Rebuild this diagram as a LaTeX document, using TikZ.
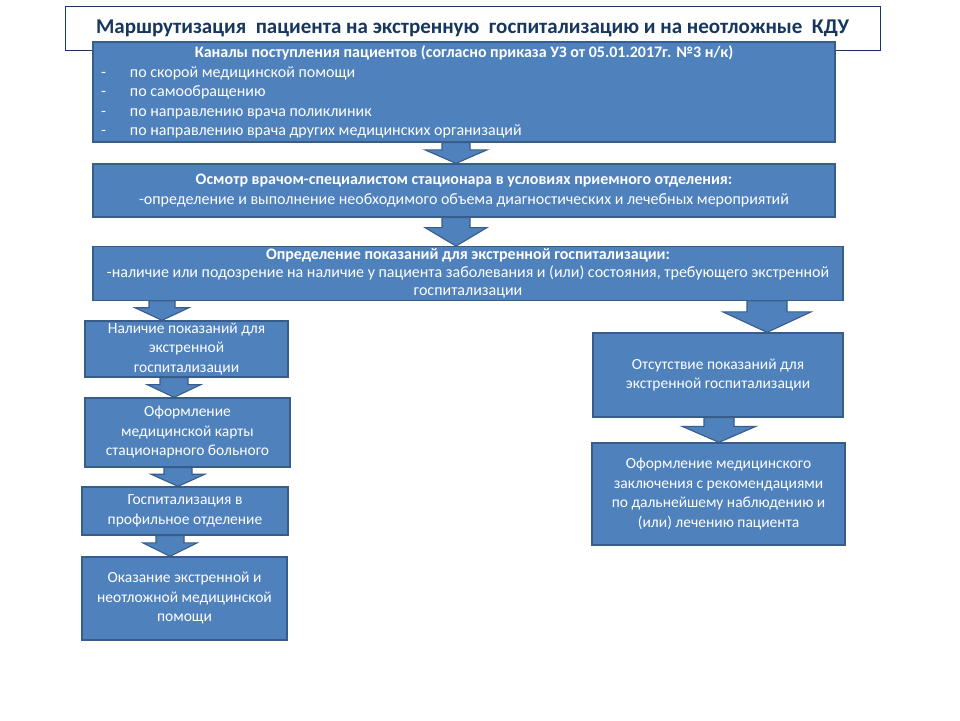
\documentclass[tikz,border=0pt]{standalone}
\usepackage{fontspec}
\setmainfont{Carlito}
\usepackage{tikz}
\usetikzlibrary{calc,positioning}
\definecolor{boxfill}{RGB}{79,129,189}
\definecolor{boxedge}{RGB}{56,93,138}
\definecolor{titleblue}{RGB}{23,55,94}

\tikzset{
  flowbox/.style={draw=boxedge, fill=boxfill, line width=1.3pt, text=white,
    align=center, inner sep=2pt, font=\fontsize{15.5}{19.5}\selectfont},
  widebox/.style={flowbox, font=\fontsize{16}{19.5}\selectfont},
  titlebox/.style={draw=titleblue, fill=white, line width=0.9pt, text=titleblue,
    font=\fontsize{21}{24}\selectfont\bfseries},
  barrow/.style={draw=boxedge, fill=boxfill, line width=1.1pt, line join=miter}
}
% block arrow: x, half shaft, half head, from node, to node
\newcommand{\flowarrow}[5]{%
  \draw[barrow] let \p1=(#4.south), \p2=(#5.north), \p3=(#1,0) in
    (\x3-#2pt,\y1) -- (\x3+#2pt,\y1) -- (\x3+#2pt,{\y1+0.35*(\y2-\y1)})
    -- (\x3+#3pt,{\y1+0.35*(\y2-\y1)}) -- (\x3,\y2)
    -- (\x3-#3pt,{\y1+0.35*(\y2-\y1)}) -- (\x3-#2pt,{\y1+0.35*(\y2-\y1)}) -- cycle;
}
\newcommand{\chanitem}[1]{\makebox[726pt][l]{\makebox[29pt][l]{-}#1}}

\begin{document}
\begin{tikzpicture}[x=1pt, y=-1pt]
\fill[white] (0,0) rectangle (960,720);
\useasboundingbox (0,0) rectangle (960,720);

% title
\node[titlebox, minimum width=815pt, minimum height=44pt] (title) at (472.5,28)
  {Маршрутизация\ \ пациента на экстренную\ \ госпитализацию и на неотложные\ \ КДУ};

% main column
\node[widebox, minimum width=742pt, minimum height=100pt] (chan) at (464,92)
  {\textbf{Каналы поступления пациентов (согласно приказа УЗ от 05.01.2017г. №3 н/к)}\\
   \chanitem{по скорой\ медицинской помощи}\\
   \chanitem{по самообращению}\\
   \chanitem{по направлению врача поликлиник}\\
   \chanitem{по направлению врача других медицинских организаций}};
\node[widebox, minimum width=742pt, minimum height=53pt] (exam) at (464,190.5)
  {\textbf{Осмотр врачом-специалистом стационара в условиях приемного отделения:}\\
   -определение и выполнение необходимого объема диагностических и лечебных мероприятий};
\node[widebox, minimum width=750pt, minimum height=53pt,
  font=\fontsize{16}{18}\selectfont] (indic) at (468,273.5)
  {\textbf{Определение показаний для экстренной госпитализации:}\\
   -наличие или подозрение на наличие у пациента заболевания и (или) состояния, требующего экстренной\\
   госпитализации};

% left column
\node[flowbox, minimum width=203pt, minimum height=54pt] (yes) at (186.5,349)
  {Наличие показаний для\\ экстренной\\ госпитализации};
\node[flowbox, minimum width=205pt, minimum height=69pt] (card) at (187.5,432.5)
  {Оформление\\ медицинской карты\\ стационарного больного};
\node[flowbox, minimum width=206pt, minimum height=48pt] (hosp) at (185,511)
  {Госпитализация в\\ профильное отделение};
\node[flowbox, minimum width=205pt, minimum height=83pt] (help) at (184.5,598.5)
  {Оказание экстренной и\\ неотложной медицинской\\ помощи};

% right column
\node[flowbox, minimum width=250pt, minimum height=84pt] (no) at (718,375)
  {Отсутствие показаний для\\ экстренной госпитализации};
\node[flowbox, minimum width=253pt, minimum height=102pt] (concl) at (718.5,494)
  {Оформление медицинского\\ заключения с рекомендациями\\ по дальнейшему наблюдению и\\ (или) лечению пациента};

% arrows
\foreach \ax/\sw/\hw/\na/\nb in {456/14/31/chan/exam, 456/14/31/exam/indic,
    162/13/27/indic/yes, 174/14/27/yes/card, 178/14/27/card/hosp, 170/14/27/hosp/help,
    767/20/44/indic/no, 719/15/37/no/concl}
  \flowarrow{\ax}{\sw}{\hw}{\na}{\nb};
\end{tikzpicture}
\end{document}
